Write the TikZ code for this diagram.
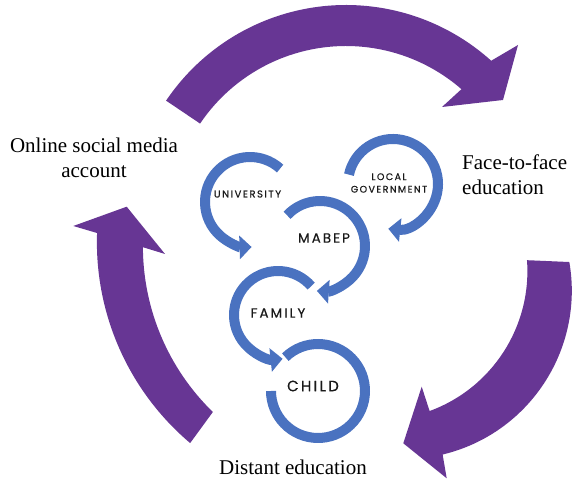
\documentclass[tikz,border=0pt]{standalone}
\usepackage{fontspec}
\setmainfont{Liberation Serif}
\newfontfamily\pop[LetterSpace=15,FakeBold=0.5]{Poppins}
\usetikzlibrary{arrows.meta}
\definecolor{purp}{RGB}{103,54,148}
\definecolor{blu}{RGB}{74,114,192}
\begin{document}
\begin{tikzpicture}[x=1pt,y=1pt,
  bigarrow/.style={fill=purp},
  ring/.style={draw=blu,line width=10pt},
  ringarrow/.style={ring,-{Triangle[width=23pt,length=12pt]}},
  lbl/.style={font=\fontsize{21}{25}\selectfont,inner sep=0pt},
  tag/.style={text=black!90,inner sep=0pt}]
\useasboundingbox (0,0) rectangle (582,482);

% purple arrows
\fill[bigarrow] ([shift={(346,260)}]146:217pt) arc[start angle=146,end angle=48,radius=217pt]
  -- (518,437) -- (503,382) -- (442,375)
  -- ([shift={(346,260)}]49:176pt) arc[start angle=49,end angle=146,radius=176pt] -- cycle;
\fill[bigarrow] ([shift={(403.3,191.3)}]9.8:168.5pt) arc[start angle=9.8,end angle=-76.5,radius=168.5pt]
  -- (446.7,3.7) -- (403.3,38.7) -- (421.7,95.3)
  -- ([shift={(378.4,210.9)}]-69.9:149pt) arc[start angle=-69.9,end angle=4.2,radius=149pt] -- cycle;
\fill[bigarrow] ([shift={(359.9,239.8)}]229.8:263pt) arc[start angle=229.8,end angle=178,radius=263pt]
  -- (73.3,256) -- (126.7,275.3) -- (165,228)
  -- ([shift={(373.9,235.6)}]180.2:231pt) arc[start angle=180.2,end angle=225.8,radius=231pt] -- cycle;

% blue circular arrows
\draw[ringarrow] ([shift={(250,280)}]48:45pt) arc[start angle=48,end angle=272,radius=45pt];
\draw[ringarrow] ([shift={(393,298)}]168:45pt) arc[start angle=168,end angle=-96,radius=45pt];
\draw[ringarrow] ([shift={(320,236)}]137:45pt) arc[start angle=137,end angle=-94,radius=45pt];
\draw[ringarrow] ([shift={(278,167)}]41:44pt) arc[start angle=41,end angle=276,radius=44pt];
\draw[ring] ([shift={(318,91)}]134:47pt) arc[start angle=134,end angle=-180,radius=47pt];

% labels
\node[lbl,align=center] (online) at (94,324) {Online social media\\account};
\node[lbl,align=left,anchor=west] (face) at (462,307) {Face-to-face\\education};
\node[lbl] (distant) at (293,15) {Distant education};

\node[tag,font=\pop\fontsize{10}{12}\selectfont] (univ) at (247.5,288) {UNIVERSITY};
\node[tag,align=center,font=\pop\fontsize{9.5}{12.5}\selectfont] (local) at (389,299) {LOCAL\\GOVERNMENT};
\node[tag,font=\pop\fontsize{13.5}{15}\selectfont] (mabep) at (324,244) {MABEP};
\node[tag,font=\pop\fontsize{13.5}{15}\selectfont] (family) at (278,169) {FAMILY};
\node[tag,font=\pop\fontsize{15}{17}\selectfont] (child) at (313,96) {CHILD};
\end{tikzpicture}
\end{document}
